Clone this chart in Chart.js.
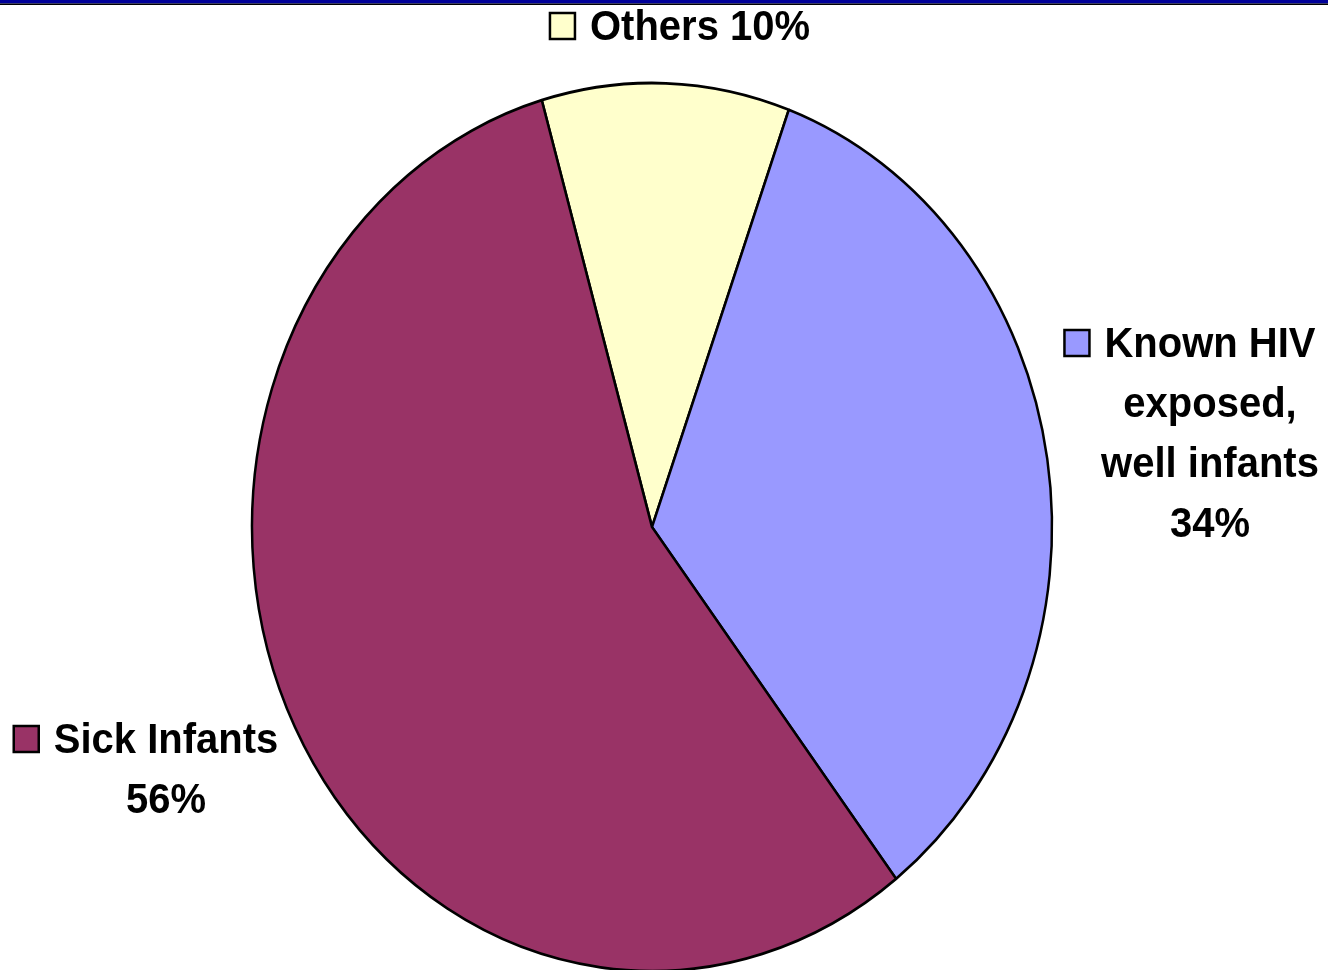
<!DOCTYPE html>
<html>
<head>
<meta charset="utf-8">
<script src="https://cdn.jsdelivr.net/npm/chart.js@4"></script>
<style>
    body { margin: 0; background: #ffffff; }
    canvas { display: block; }
</style>
</head>
<body>
<canvas id="camembert" width="1328" height="970"></canvas>
<script>
const categories = ['Others', 'Known HIV exposed, well infants', 'Sick Infants'];
const valeurs = [10, 34, 56];
const couleurs = ['#FFFFCC', '#9999FF', '#993366'];
// texte des etiquettes, ligne par ligne
const etiquettes = [
    ['Others 10%'],
    ['Known HIV', 'exposed,', 'well infants', '34%'],
    ['Sick Infants', '56%']
];
// position des etiquettes (centre du texte, ligne de base de la 1re ligne)
const positionsEtiquettes = [
    { x: 700, y: 40 },
    { x: 1210, y: 357 },
    { x: 166, y: 753 }
];

const etirement = 1.11; // le camembert est un peu ovale dans l'original

const ovale = {
    id: 'ovale',
    beforeDraw(chart) {
        const ctx = chart.ctx;
        ctx.save();
        ctx.fillStyle = '#000099';
        ctx.fillRect(0, 0, chart.width, 3.5);
        ctx.fillStyle = '#000000';
        ctx.fillRect(0, 3.5, chart.width, 1.5);
        ctx.restore();
    },
    beforeDatasetsDraw(chart) {
        const arc = chart.getDatasetMeta(0).data[0];
        const ctx = chart.ctx;
        ctx.save();
        ctx.translate(arc.x, arc.y);
        ctx.scale(1, etirement);
        ctx.translate(-arc.x, -arc.y);
    },
    afterDatasetsDraw(chart) {
        chart.ctx.restore();
    }
};

const etiquettesPlugin = {
    id: 'etiquettes',
    afterDraw(chart) {
        const ctx = chart.ctx;
        ctx.save();
        ctx.font = 'bold 40px "Liberation Sans", Arial, sans-serif';
        ctx.textAlign = 'center';
        ctx.textBaseline = 'alphabetic';
        etiquettes.forEach((lignes, i) => {
            const pos = positionsEtiquettes[i];
            lignes.forEach((ligne, j) => {
                const y = pos.y + j * 60;
                ctx.save();
                ctx.translate(pos.x, y);
                ctx.scale(1, 1.05);
                ctx.fillStyle = '#000000';
                ctx.fillText(ligne, 0, 0);
                ctx.restore();
                if (j === 0) {
                    const largeur = ctx.measureText(ligne).width;
                    const gauche = pos.x - largeur / 2 - 40;
                    ctx.fillStyle = couleurs[i];
                    ctx.fillRect(gauche, y - 27, 25, 26);
                    ctx.lineWidth = 2.5;
                    ctx.strokeStyle = '#000000';
                    ctx.strokeRect(gauche, y - 27, 25, 26);
                }
            });
        });
        ctx.restore();
    }
};

const ctx = document.getElementById('camembert').getContext('2d');

new Chart(ctx, {
    type: 'pie',
    data: {
        labels: categories,
        datasets: [{
            data: valeurs,
            backgroundColor: couleurs,
            borderColor: '#000000',
            borderWidth: 2.5,
            borderAlign: 'center'
        }]
    },
    options: {
        responsive: false,
        animation: false,
        rotation: -16,
        radius: 400,
        layout: {
            padding: { left: 0, right: 24, top: 84, bottom: 0 }
        },
        plugins: {
            legend: { display: false },
            tooltip: { enabled: false }
        }
    },
    plugins: [ovale, etiquettesPlugin]
});
</script>
</body>
</html>
